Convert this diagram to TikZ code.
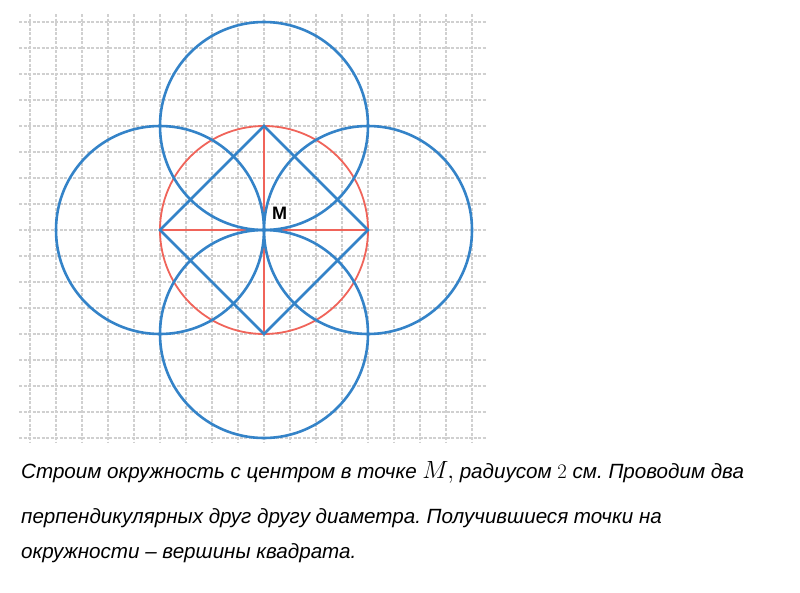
\documentclass[tikz,border=0pt]{standalone}
\usepackage{fontspec}
\setmainfont{Liberation Sans}
\definecolor{cblue}{RGB}{52,131,200}
\definecolor{cred}{RGB}{240,100,90}
\definecolor{cgrid}{RGB}{208,208,208}
\frenchspacing
\begin{document}
\begin{tikzpicture}[x=1pt,y=-1pt,
  gridline/.style={cgrid,line width=1.1pt,dash pattern=on 3pt off 1.5pt},
  bluecirc/.style={cblue,line width=2.6pt},
  redline/.style={cred,line width=1.8pt},
  bluesq/.style={cblue,line width=2.6pt,line join=miter},
  caption/.style={anchor=base west,inner sep=0pt,font=\fontsize{20.6}{24}\selectfont\itshape}]
\useasboundingbox (0,0) rectangle (800,592);
\fill[white] (0,0) rectangle (800,592);
% grid
\foreach \i in {0,...,17} \draw[gridline] (30+26*\i,14) -- (30+26*\i,443);
\foreach \j in {0,...,16} \draw[gridline] (19,22+26*\j) -- (487,22+26*\j);
% points
\coordinate (M) at (264,230);
\coordinate (T) at (264,126);
\coordinate (B) at (264,334);
\coordinate (L) at (160,230);
\coordinate (R) at (368,230);
% red circle and diameters
\draw[redline] (M) circle[radius=104];
\draw[redline] (L) -- (R);
\draw[redline] (T) -- (B);
% blue circles
\draw[bluecirc] (T) circle[radius=104];
\draw[bluecirc] (B) circle[radius=104];
\draw[bluecirc] (L) circle[radius=104];
\draw[bluecirc] (R) circle[radius=104];
% square
\draw[bluesq] (T) -- (R) -- (B) -- (L) -- cycle;
\node[font=\fontsize{18}{20}\selectfont\bfseries,inner sep=0pt] (Mlabel) at (279.5,213.5) {M};
% caption
\node[caption] (c1) at (21,478) {Строим окружность с центром в точке {\fontsize{23}{24}\selectfont$M,$} радиусом $2$ см. Проводим два};
\node[caption] (c2) at (21,523) {перпендикулярных друг другу диаметра. Получившиеся точки на};
\node[caption] (c3) at (21,558) {окружности – вершины квадрата.};
\end{tikzpicture}
\end{document}
